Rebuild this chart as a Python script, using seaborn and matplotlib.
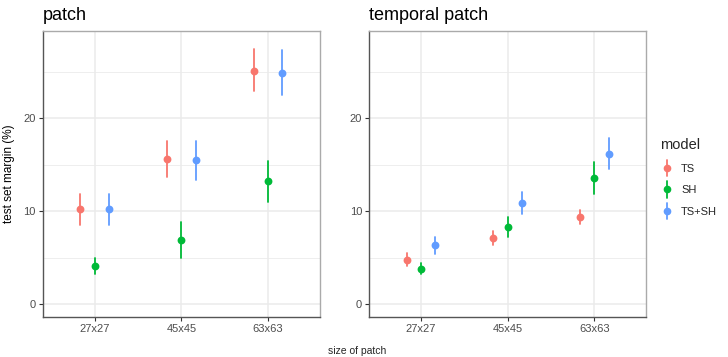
import numpy as np
import pandas as pd
import matplotlib
matplotlib.use("Agg")
import matplotlib.pyplot as plt
import seaborn as sns
from matplotlib.lines import Line2D
from matplotlib.legend_handler import HandlerBase

sizes = ["27x27", "45x45", "63x63"]
models = ["TS", "SH", "TS+SH"]
colors = ["#F8766D", "#00BA38", "#619CFF"]

# patch panel: (size, model) -> low, mid, high
patch_mid = {"TS": [10.2, 15.6, 25.1], "SH": [4.1, 6.9, 13.2], "TS+SH": [10.2, 15.5, 24.9]}
patch_lo = {"TS": [8.5, 13.7, 22.9], "SH": [3.2, 5.0, 11.0], "TS+SH": [8.5, 13.4, 22.5]}
patch_hi = {"TS": [11.8, 17.5, 27.4], "SH": [5.0, 8.8, 15.4], "TS+SH": [11.8, 17.5, 27.3]}

temp_mid = {"TS": [4.8, 7.1, 9.35], "SH": [3.8, 8.3, 13.6], "TS+SH": [6.35, 10.9, 16.2]}
temp_lo = {"TS": [4.1, 6.35, 8.6], "SH": [3.2, 7.2, 11.9], "TS+SH": [5.4, 9.7, 14.5]}
temp_hi = {"TS": [5.5, 7.9, 10.1], "SH": [4.4, 9.4, 15.3], "TS+SH": [7.25, 12.1, 17.9]}


def long_frame(lo, mid, hi):
    rows = []
    for m in models:
        for i, s in enumerate(sizes):
            for v in (lo[m][i], mid[m][i], hi[m][i]):
                rows.append({"size": s, "model": m, "margin": v})
    return pd.DataFrame(rows)


df_patch = long_frame(patch_lo, patch_mid, patch_hi)
df_temp = long_frame(temp_lo, temp_mid, temp_hi)

sns.set_theme(style="white")
plt.rcParams["font.family"] = ["Liberation Sans", "DejaVu Sans"]

fig = plt.figure(figsize=(7.28, 3.57), dpi=100)
ax1 = fig.add_axes([42.7 / 728, 1 - 317.3 / 357, (320 - 42.7) / 728, (317.3 - 30.7) / 357])
ax2 = fig.add_axes([369 / 728, 1 - 317.3 / 357, (646.3 - 369) / 728, (317.3 - 30.7) / 357])

for ax, df, title in [(ax1, df_patch, "patch"), (ax2, df_temp, "temporal patch")]:
    sns.pointplot(data=df, x="size", y="margin", hue="model", order=sizes,
                  hue_order=models, palette=colors, estimator="median",
                  errorbar=("pi", 100), dodge=1 / 3, linestyle="none",
                  markers="o", markersize=3.6, err_kws={"linewidth": 1.3},
                  ax=ax, legend=False)
    ax.set_xlim(-0.6, 2.6)
    ax.set_ylim(-1.4, 29.4)
    ax.set_yticks([0, 10, 20])
    ax.set_yticks([5, 15, 25], minor=True)
    ax.grid(True, which="major", color="#EBEBEB", linewidth=1.1)
    ax.grid(True, which="minor", axis="y", color="#EBEBEB", linewidth=0.6)
    ax.set_axisbelow(True)
    ax.set_xlabel("")
    ax.set_ylabel("")
    for side in ["top", "right"]:
        ax.spines[side].set_color("#AAAAAA")
        ax.spines[side].set_linewidth(1.0)
    for side in ["left", "bottom"]:
        ax.spines[side].set_color("#555555")
        ax.spines[side].set_linewidth(1.0)
    ax.tick_params(axis="both", which="major", length=3, width=0.8, color="#333333",
                   labelsize=8, labelcolor="#4D4D4D", pad=2, left=True, bottom=True)
    ax.tick_params(axis="y", which="minor", length=0)
    ax.text(0.0, 1.025, title, transform=ax.transAxes, fontsize=13, color="black",
            ha="left", va="bottom")

ax1.set_ylabel("test set margin (%)", fontsize=8.5, color="black", labelpad=6)
fig.text(357 / 728, 1 - 351 / 357, "size of patch", fontsize=7.5, ha="center", va="center")

handles = [Line2D([0], [0], color=c, marker="o", markersize=4, linewidth=1.3,
                  linestyle="none") for c in colors]


class VLineDot(HandlerBase):
    def create_artists(self, legend, orig, xd, yd, w, h, fs, trans):
        cx = xd + w / 2
        cy = yd + h / 2
        ln = Line2D([cx, cx], [yd - 3, yd + h + 3], color=orig.get_color(), linewidth=1.3,
                    transform=trans)
        dot = Line2D([cx], [cy], marker="o", markersize=4.5, color=orig.get_color(),
                     linestyle="none", transform=trans)
        return [ln, dot]


leg = fig.legend(handles, models, loc="upper left", bbox_to_anchor=(650 / 728, 1 - 128 / 357),
                 frameon=False, title="model", fontsize=8, title_fontsize=10.5,
                 handler_map={h: VLineDot() for h in handles}, handlelength=1.2,
                 labelspacing=1.05, handletextpad=0.7, alignment="left")

fig.savefig("out.png", dpi=100)
